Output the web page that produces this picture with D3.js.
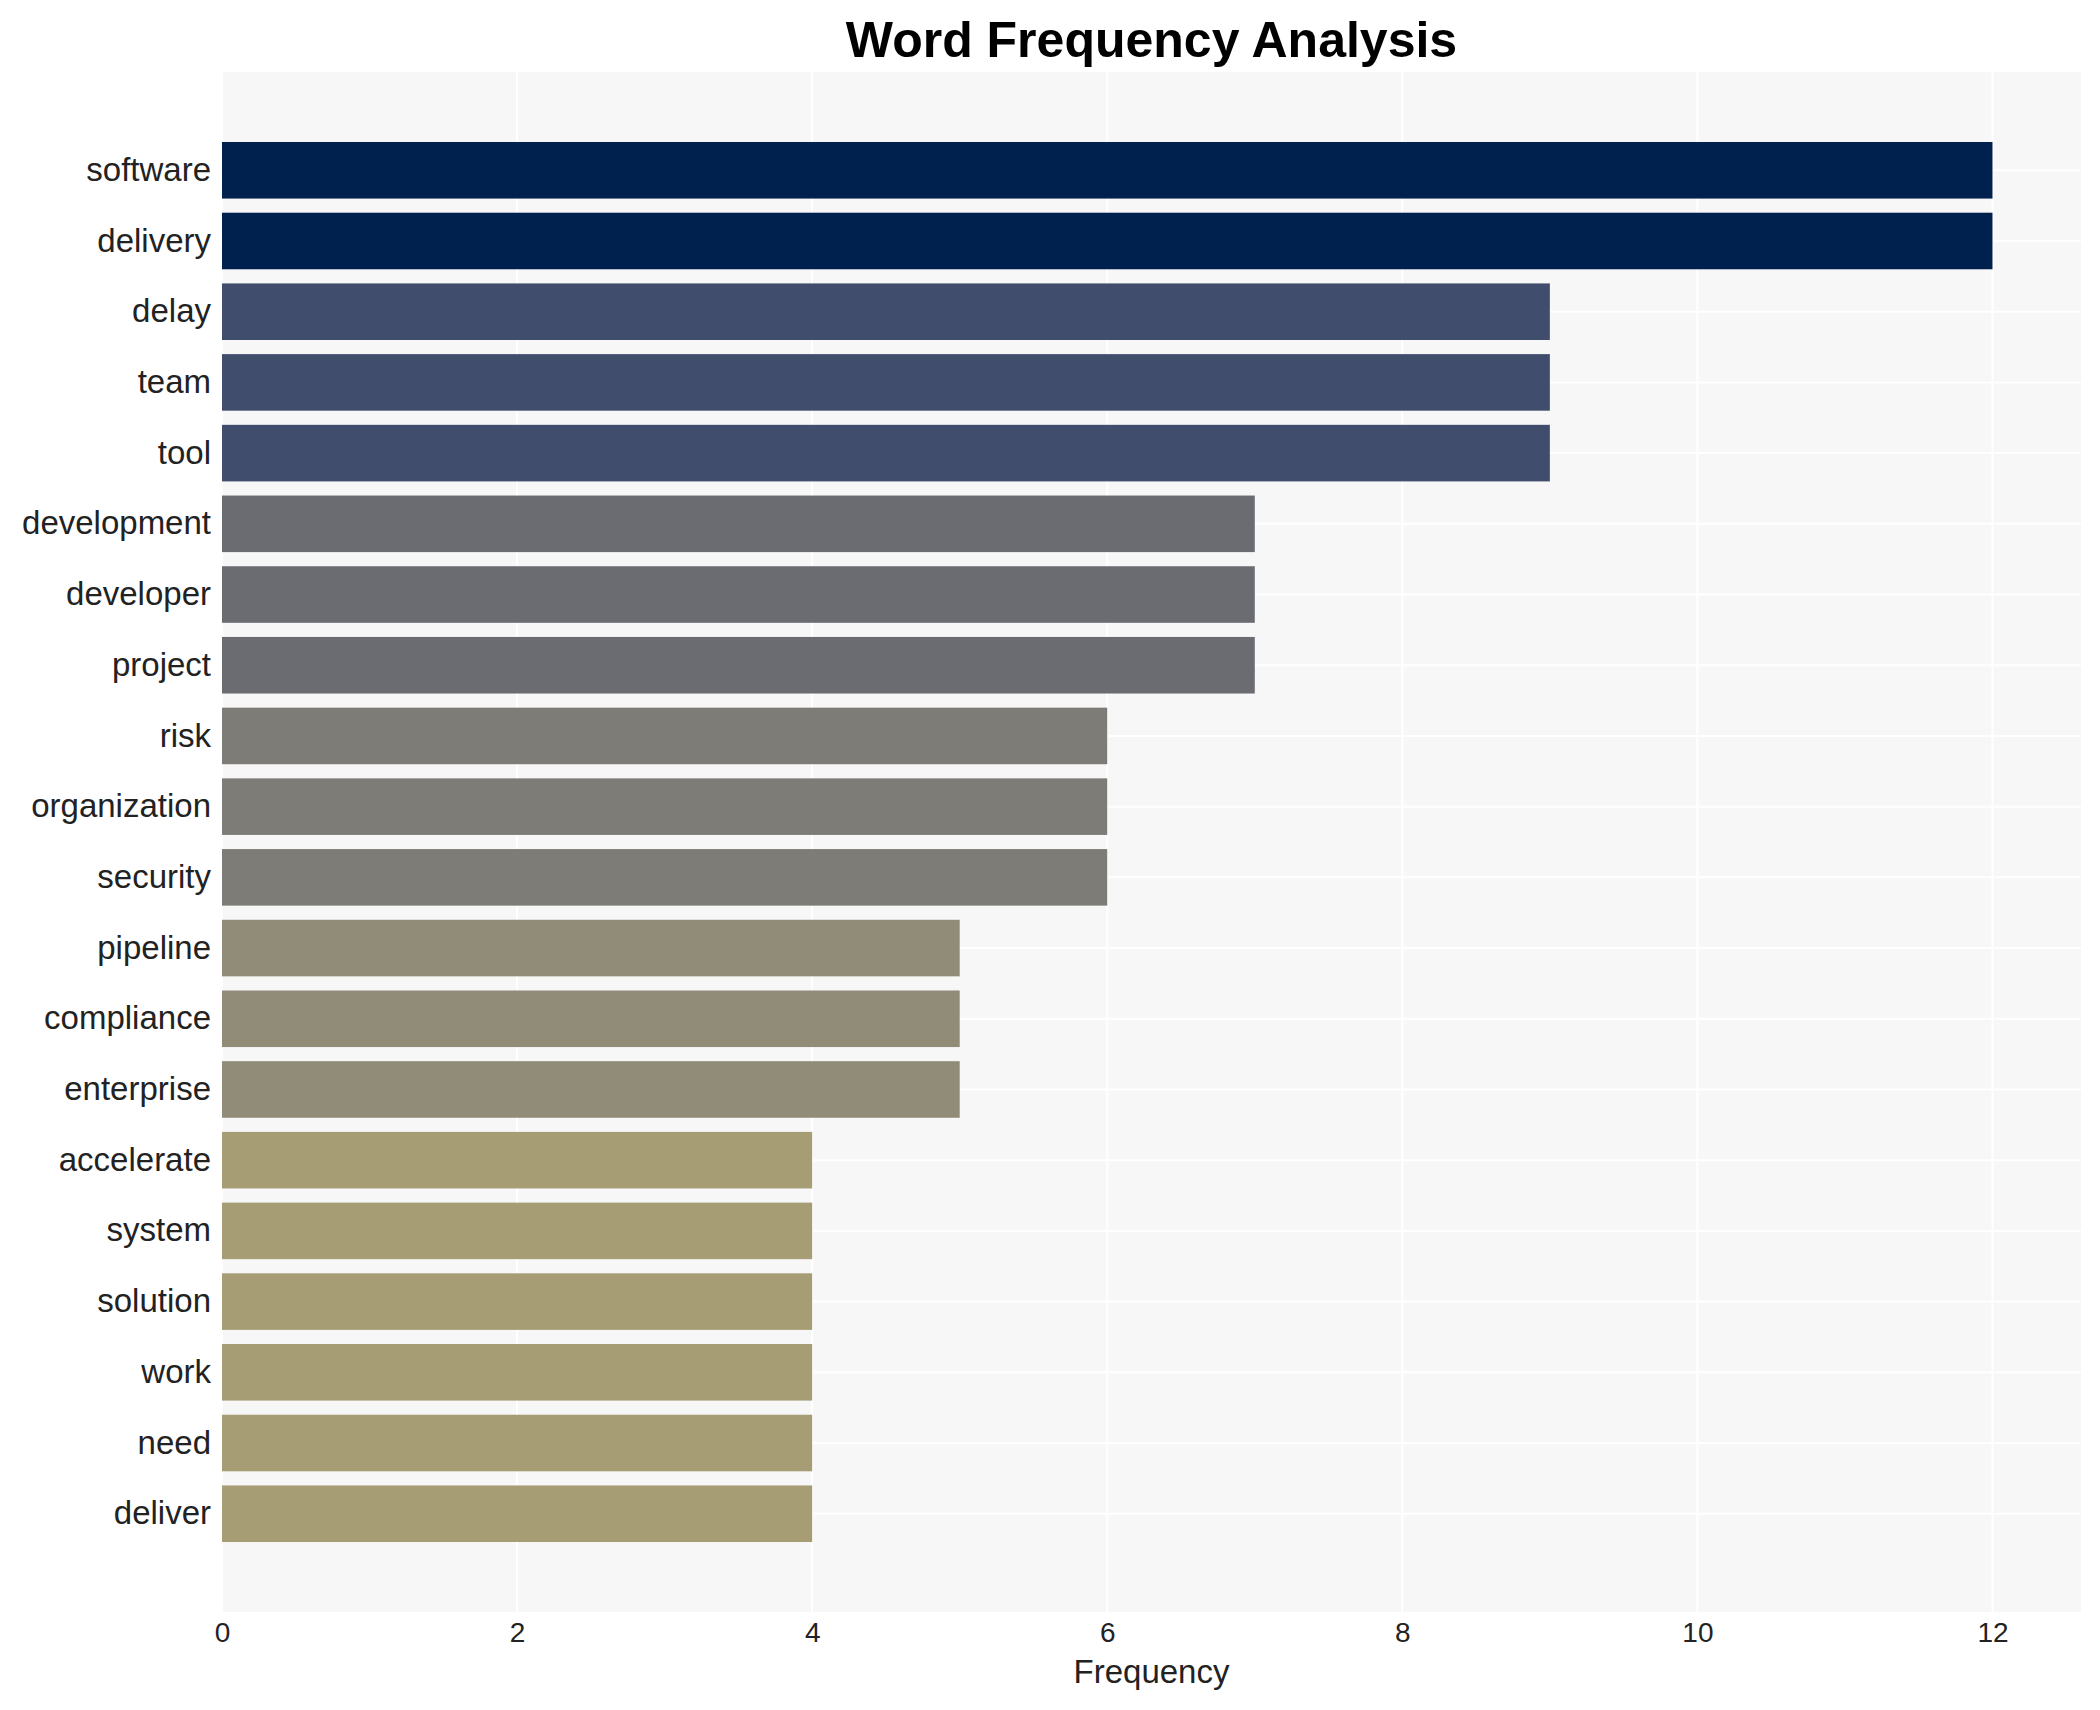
<!DOCTYPE html>
<html>
<head>
<meta charset="utf-8">
<script src="https://cdn.jsdelivr.net/npm/d3@7"></script>
<style>
  body { margin: 0; background: #fff; }
  text { font-family: "Liberation Sans", Arial, sans-serif; }
</style>
</head>
<body>
<script>
// data
var words = ["software", "delivery", "delay", "team", "tool", "development", "developer",
             "project", "risk", "organization", "security", "pipeline", "compliance",
             "enterprise", "accelerate", "system", "solution", "work", "need", "deliver"];
var freqs = [12, 12, 9, 9, 9, 7, 7, 7, 6, 6, 6, 5, 5, 5, 4, 4, 4, 4, 4, 4];
var xTicks = [0, 2, 4, 6, 8, 10, 12];

// cividis palette stops (same as viridisLite's cividis(10))
var cividis = ["#00204d", "#00336f", "#39486b", "#575c6d", "#707173",
               "#8a8779", "#a69d75", "#c4b56c", "#e4cf5b", "#ffea46"];

var width = 2100, height = 1710;
var panel = { left: 222, right: 2081, top: 72, bottom: 1612 };

var svg = d3.select("body")
            .append("svg")
            .attr("width", width)
            .attr("height", height);

var x = d3.scaleLinear()
          .domain([0, d3.max(freqs) * 1.05])
          .range([panel.left, panel.right]);

var y = d3.scaleBand()
          .domain(words)
          .range([panel.top, panel.bottom])
          .paddingInner(0.2)
          .paddingOuter(0.99);

// reversed: biggest count is darkest, scale runs down to 0
var color = d3.scaleSequential(d3.piecewise(d3.interpolateRgb, cividis))
              .domain([d3.max(freqs), 0]);

// panel background
svg.append("rect")
   .attr("x", panel.left)
   .attr("y", panel.top)
   .attr("width", panel.right - panel.left)
   .attr("height", panel.bottom - panel.top)
   .attr("fill", "#f7f7f7");

// grid
svg.selectAll(".vgrid")
   .data(xTicks)
   .enter()
   .append("line")
   .attr("class", "vgrid")
   .attr("x1", function(d){ return x(d); })
   .attr("x2", function(d){ return x(d); })
   .attr("y1", panel.top)
   .attr("y2", panel.bottom)
   .attr("stroke", "#fff")
   .attr("stroke-width", 2);

svg.selectAll(".hgrid")
   .data(words)
   .enter()
   .append("line")
   .attr("class", "hgrid")
   .attr("x1", panel.left)
   .attr("x2", panel.right)
   .attr("y1", function(d){ return y(d) + y.bandwidth() / 2; })
   .attr("y2", function(d){ return y(d) + y.bandwidth() / 2; })
   .attr("stroke", "#fff")
   .attr("stroke-width", 2);

// bars
svg.selectAll(".bar")
   .data(words)
   .enter()
   .append("rect")
   .attr("class", "bar")
   .attr("x", x(0))
   .attr("y", function(d){ return y(d); })
   .attr("width", function(d,i){ return x(freqs[i]) - x(0); })
   .attr("height", y.bandwidth())
   .attr("fill", function(d,i){ return color(freqs[i]); });

// y axis labels
var yAxis = d3.axisLeft(y).tickSize(0).tickPadding(11);
var yg = svg.append("g")
            .attr("transform", "translate(" + panel.left + ",0)")
            .call(yAxis);
yg.select(".domain").remove();
yg.selectAll("text")
  .style("font-size", "33px")
  .attr("fill", "#222");

// x axis labels
var xAxis = d3.axisBottom(x).tickValues(xTicks).tickSize(0).tickPadding(10);
var xg = svg.append("g")
            .attr("transform", "translate(0," + panel.bottom + ")")
            .call(xAxis);
xg.select(".domain").remove();
xg.selectAll("text")
  .style("font-size", "28px")
  .attr("fill", "#222");

// titles
svg.append("text")
   .attr("x", (panel.left + panel.right) / 2)
   .attr("y", 1683)
   .attr("text-anchor", "middle")
   .style("font-size", "33px")
   .attr("fill", "#222")
   .text("Frequency");

svg.append("text")
   .attr("x", (panel.left + panel.right) / 2)
   .attr("y", 57)
   .attr("text-anchor", "middle")
   .style("font-size", "50px")
   .style("font-weight", "bold")
   .attr("fill", "#000")
   .text("Word Frequency Analysis");
</script>
</body>
</html>
